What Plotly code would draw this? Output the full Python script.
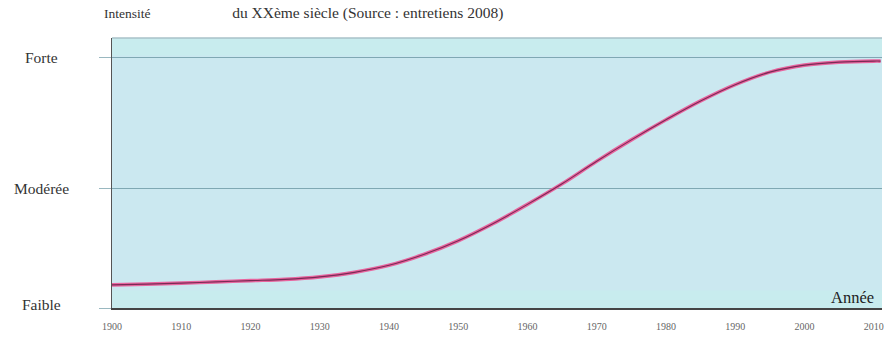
import plotly.graph_objects as go

# Data: intensity on a 0 (Faible) .. 100 (Forte) scale
years = [1900, 1905, 1910, 1915, 1920, 1925, 1930, 1935, 1940, 1945, 1950, 1955,
         1960, 1965, 1970, 1975, 1980, 1985, 1990, 1995, 2000, 2005, 2010, 2011]
intensity = [9.2, 9.5, 9.9, 10.4, 10.9, 11.4, 12.4, 14.2, 17.0, 21.3, 26.8, 33.6,
             41.3, 49.5, 58.5, 67.0, 75.0, 82.5, 89.0, 94.0, 96.8, 98.0, 98.4, 98.4]

y_tick_vals = [0, 47.8, 100]
y_tick_text = ["Faible", "Modérée", "Forte"]
x_tick_vals = [1900, 1910, 1920, 1930, 1940, 1950, 1960, 1970, 1980, 1990, 2000, 2010]
x_tick_text = [str(v) for v in x_tick_vals]

title_text = "du XXème siècle (Source : entretiens 2008)"
y_title = "Intensité"
x_title = "Année"

SERIF = "Liberation Serif, Times New Roman, serif"

fig = go.Figure()
# pink halo under a dark core line
fig.add_trace(go.Scatter(x=years, y=intensity, mode="lines",
                         line=dict(color="#e8649e", width=3.6, shape="spline"),
                         hoverinfo="skip", showlegend=False))
fig.add_trace(go.Scatter(x=years, y=intensity, mode="lines",
                         line=dict(color="#7a2a55", width=1.1, shape="spline"),
                         showlegend=False))

annotations = []
for v, t in zip(y_tick_vals, y_tick_text):
    annotations.append(dict(text=t, xref="paper", yref="y", x=-0.092, y=v + (1.5 if v == 0 else 0),
                            xanchor="center", yanchor="middle", showarrow=False,
                            font=dict(family=SERIF, size=15.5, color="#333333")))
annotations.append(dict(text=y_title, xref="paper", yref="paper", x=0.02, y=1.0,
                        yshift=25, xanchor="center", yanchor="middle", showarrow=False,
                        font=dict(family=SERIF, size=13.5, color="#333333")))
annotations.append(dict(text=x_title, xref="paper", yref="paper", x=0.992, y=0.0,
                        yshift=11, xanchor="right", yanchor="middle", showarrow=False,
                        font=dict(family=SERIF, size=16.5, color="#222222")))

fig.update_layout(
    width=884, height=338,
    margin=dict(l=112, r=0, t=38, b=30),
    paper_bgcolor="white",
    plot_bgcolor="#cbe8f0",
    title=dict(text=title_text, x=0.416, xanchor="center", y=0.962, yanchor="middle",
               font=dict(family=SERIF, size=15.5, color="#333333")),
    annotations=annotations,
    shapes=[
        dict(type="rect", xref="paper", yref="paper", x0=0, x1=1, y0=0.935, y1=1,
             fillcolor="#c8ecee", line=dict(width=0), layer="below"),
        dict(type="rect", xref="paper", yref="paper", x0=0, x1=1, y0=0, y1=0.065,
             fillcolor="#c8ecee", line=dict(width=0), layer="below"),
        dict(type="line", xref="paper", yref="paper", x0=0, x1=1, y0=1, y1=1,
             line=dict(color="#a9c2c8", width=1.5)),
    ],
    xaxis=dict(range=[1900, 2011.2], tickvals=x_tick_vals, ticktext=x_tick_text,
               showgrid=False, zeroline=False, showline=True, linecolor="#444444",
               linewidth=1.5, ticks="", ticklabelstandoff=8, ticklabeloverflow="allow",
               tickfont=dict(family=SERIF, size=10, color="#666666")),
    yaxis=dict(range=[0, 107.6], tickvals=y_tick_vals, ticktext=["", "", ""],
               showgrid=True, gridcolor="#7fa8b3", gridwidth=1, zeroline=False,
               showline=True, linecolor="#555555", linewidth=1,
               ticks="outside", ticklen=12, tickcolor="#9ab8c0"),
)

fig.write_html("out.html", config={"displayModeBar": False},
               post_script="document.body.style.margin='0';")
